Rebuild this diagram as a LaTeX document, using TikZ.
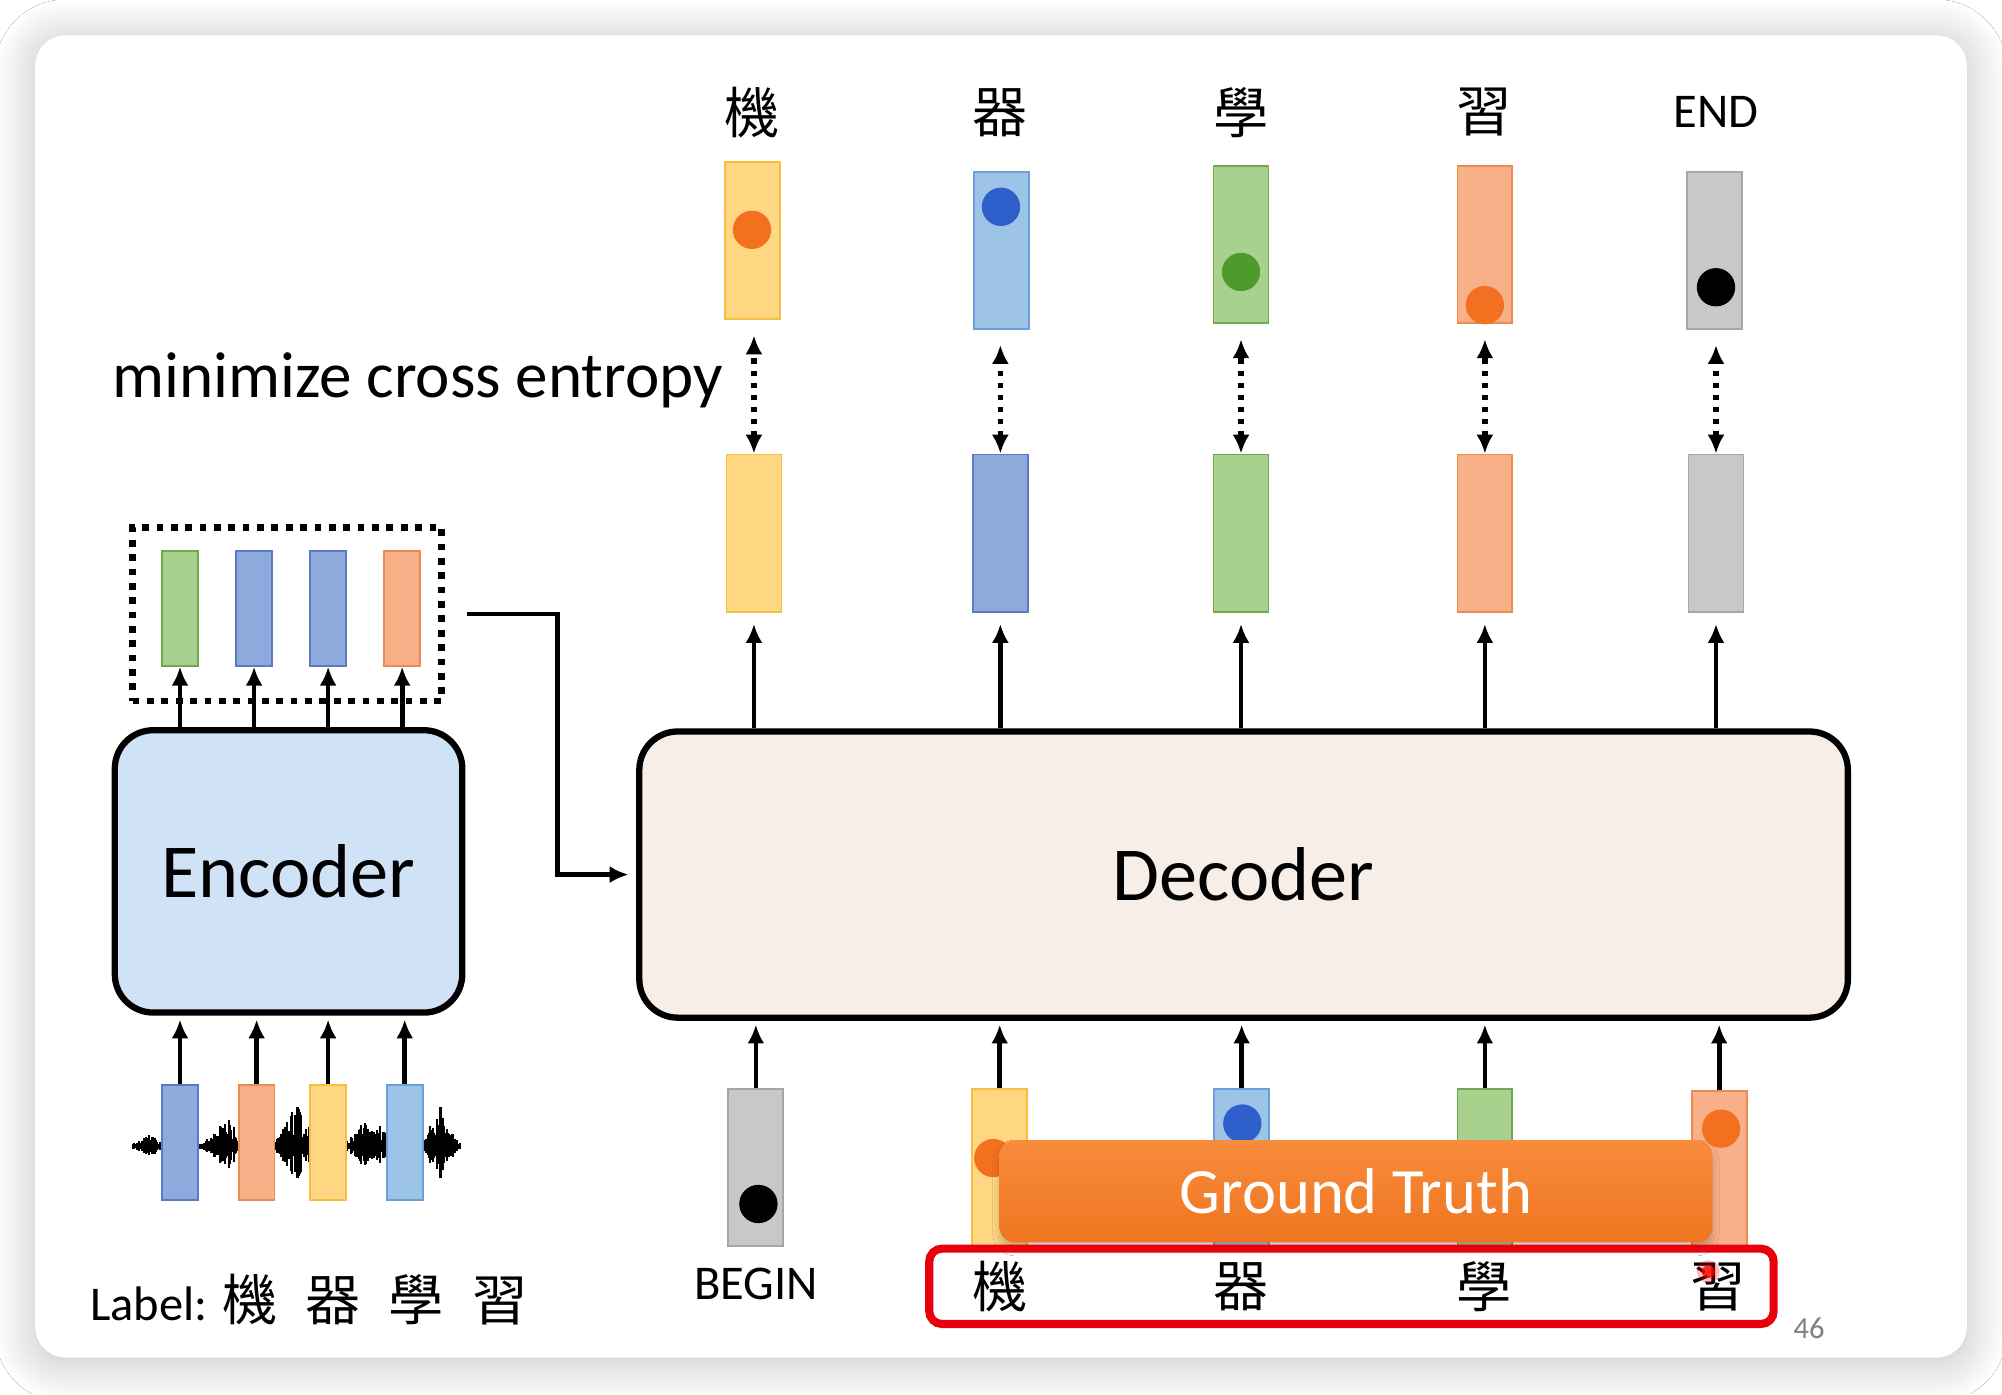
\documentclass[tikz,border=0pt]{standalone}
\usepackage{fontspec}
\setmainfont{Carlito}
\newfontfamily\cjk{Noto Sans CJK TC}
\usetikzlibrary{positioning,arrows.meta,shadows.blur}

\definecolor{vecyellow}{HTML}{FFD782}
\definecolor{vecyellowline}{HTML}{F5C040}
\definecolor{veclblue}{HTML}{9DC3E6}
\definecolor{veclblueline}{HTML}{6A9FD8}
\definecolor{vecblue}{HTML}{8EA9DB}
\definecolor{vecblueline}{HTML}{5B7BC4}
\definecolor{vecgreen}{HTML}{A9D18E}
\definecolor{vecgreenline}{HTML}{72A850}
\definecolor{vecorange}{HTML}{F8B089}
\definecolor{vecorangeline}{HTML}{EE8A50}
\definecolor{vecgray}{HTML}{C8C8C8}
\definecolor{vecgrayline}{HTML}{A6A6A6}
\definecolor{dotorange}{HTML}{F37021}
\definecolor{dotblue}{HTML}{2E5FCB}
\definecolor{dotgreen}{HTML}{4E9A2C}
\definecolor{encfill}{HTML}{CFE2F6}
\definecolor{decfill}{HTML}{F7EFE7}
\definecolor{gtorange}{HTML}{EF7520}
\definecolor{gtlight}{HTML}{F78C3C}
\definecolor{gtred}{HTML}{E8000C}

\tikzset{
  vec/.style={draw=#1line, fill=#1, line width=0.4pt, minimum width=0.43cm, minimum height=1.23cm, inner sep=0pt},
  hvec/.style={minimum width=0.28cm, minimum height=0.9cm},
  ball/.style={circle, fill=#1, minimum size=0.3cm, inner sep=0pt},
  block/.style={draw, line width=1.4pt, rounded corners=0.3cm, font=\fontsize{17}{20}\selectfont},
  dotbox/.style={draw, line width=1.5pt, dash pattern=on 1.5pt off 1.7pt, minimum width=2.42cm, minimum height=1.36cm},
  word/.style={font=\cjk\fontsize{12.3}{14}\selectfont, inner sep=0pt},
  tag/.style={font=\fontsize{10.8}{13}\selectfont, inner sep=0pt},
  up/.style={->, line width=1.05pt},
  xent/.style={<->, line width=1.2pt, dash pattern=on 1.2pt off 1.5pt, shorten >=0.12cm},
  slide/.style={fill=white, rounded corners=0.24cm, minimum width=15.12cm, minimum height=10.35cm,
    blur shadow={shadow xshift=0pt, shadow yshift=-1pt, shadow blur radius=9pt, shadow blur steps=14, shadow opacity=25}}
}

\begin{document}
\begin{tikzpicture}[x=0.01cm, y=-0.01cm, >={Latex[length=4.2pt,width=3.8pt]}]
  % page and slide
  \fill[white] (0,0) rectangle (1568,1092);
  \useasboundingbox (0,0) rectangle (1568,1092);
  \node[slide] (card) at (784,545.5) {};

  % encoder
  \node[block, fill=encfill, minimum width=2.72cm, minimum height=2.21cm] (enc) at (226,682.5) {Encoder};
  \node[dotbox] (hbox) at (225,481) {};
  \node[vec=vecgreen, hvec] (h1) at (141,476.5) {};
  \node[vec=vecblue, hvec] (h2) at (199,476.5) {};
  \node[vec=vecblue, hvec] (h3) at (257,476.5) {};
  \node[vec=vecorange, hvec] (h4) at (315,476.5) {};
  \foreach \n in {1,...,4} \draw[up] (h\n |- enc.north) -- (h\n.south);

  % speech signal
  \pgfmathsetseed{11}
  \draw[line width=0.5pt] (104,898) -- (360,898);
  \foreach \i in {104,...,360}{
    \pgfmathsetmacro\env{3+9*max(0,1-abs(\i-116)/10)+22*max(0,1-abs(\i-177)/18)+30*max(0,1-abs(\i-232)/18)+22*max(0,1-abs(\i-290)/20)+32*max(0,1-abs(\i-345)/14)}
    \pgfmathsetmacro\amp{\env*(0.3+0.7*rnd)}
    \draw[line width=0.45pt] (\i,898-\amp) -- (\i,898+0.8*\amp);
  }
  \node[vec=vecblue, hvec] (x1) at (141,895) {};
  \node[vec=vecorange, hvec] (x2) at (201,895) {};
  \node[vec=vecyellow, hvec] (x3) at (257,895) {};
  \node[vec=veclblue, hvec] (x4) at (317,895) {};
  \foreach \n in {1,...,4} \draw[up, shorten >=0.03cm] (x\n.north) -- (x\n |- enc.south);
  \node[tag, anchor=west] (lab) at (70,1018) {Label: {\cjk\fontsize{12.3}{14}\selectfont 機\hspace{0.22cm}器\hspace{0.22cm}學\hspace{0.22cm}習}};

  % decoder
  \node[block, fill=decfill, minimum width=9.46cm, minimum height=2.24cm] (dec) at (974,685) {Decoder};

  % encoder output to decoder
  \draw[up, shorten <=0.17cm, shorten >=0.06cm] (hbox.east) -- ++(88,0) |- (dec.west);

  % decoder outputs
  \node[vec=vecyellow] (pred1) at (590.5,417.5) {};
  \node[vec=vecblue] (pred2) at (783.5,417.5) {};
  \node[vec=vecgreen] (pred3) at (972,417.5) {};
  \node[vec=vecorange] (pred4) at (1163,417.5) {};
  \node[vec=vecgray] (pred5) at (1344,417.5) {};
  \foreach \n in {1,...,5} \draw[up, shorten >=0.09cm] (pred\n |- dec.north) -- (pred\n.south);

  % targets
  \node[vec=vecyellow] (out1) at (589.5,188.5) {};
  \node[vec=veclblue] (out2) at (784.5,196) {};
  \node[vec=vecgreen] (out3) at (972,191.5) {};
  \node[vec=vecorange] (out4) at (1163,191.5) {};
  \node[vec=vecgray] (out5) at (1343,196) {};
  \node[ball=dotorange] (t1) at (589,180) {};
  \node[ball=dotblue] (t2) at (784,162) {};
  \node[ball=dotgreen] (t3) at (972,213) {};
  \node[ball=dotorange] (t4) at (1163,239) {};
  \node[ball=black] (t5) at (1344,225) {};
  \node[word] (w1) at (589,88) {機};
  \node[word] (w2) at (783,88) {器};
  \node[word] (w3) at (972,88) {學};
  \node[word] (w4) at (1162,88) {習};
  \node[tag] (w5) at (1344,88) {END};
  \foreach \n in {1,...,5} \draw[xent] (pred\n.north) -- (pred\n.north |- out\n.south);
  \node[anchor=east, inner sep=0pt, font=\fontsize{14.5}{17}\selectfont] (ce) at (567,298) {minimize cross entropy};

  % decoder inputs
  \node[vec=vecgray] (in0) at (592,914.5) {};
  \node[vec=vecyellow] (in1) at (783,914.5) {};
  \node[vec=veclblue] (in2) at (972.5,914.5) {};
  \node[vec=vecgreen] (in3) at (1163,914.5) {};
  \node[vec=vecorange] (in4) at (1346.5,916) {};
  \node[ball=black] (s0) at (594,943) {};
  \node[ball=dotorange] (s1) at (778,907) {};
  \node[ball=dotblue] (s2) at (973,880) {};
  \foreach \n in {0,...,4} \draw[up, shorten >=0.03cm] (in\n.north) -- (in\n |- dec.south);
  \node[tag] (begin) at (592,1006) {BEGIN};

  % ground truth
  \node[rounded corners=0.12cm, top color=gtlight, bottom color=gtorange, minimum width=5.58cm, minimum height=0.8cm,
    text=white, font=\fontsize{14.4}{17}\selectfont,
    blur shadow={shadow xshift=0pt, shadow yshift=-1.5pt, shadow blur radius=1.5pt, shadow blur steps=6, shadow opacity=20}] (gt) at (1062,933) {Ground Truth};
  \node[ball=dotorange] (s4) at (1348,884) {};
  \node[draw=gtred, line width=1.8pt, rounded corners=0.1cm, minimum width=6.61cm, minimum height=0.59cm] (gtbox) at (1058.5,1007.5) {};
  \node[word] (g1) at (783,1008) {機};
  \node[word] (g2) at (972,1008) {器};
  \node[word] (g3) at (1162,1008) {學};
  \node[word] (g4) at (1346,1008) {習};
  \fill[red, opacity=0.25] (1338,996) circle (0.09cm);
  \fill[red, opacity=0.8] (1338,996) circle (0.05cm);

  \node[text=gray, font=\fontsize{6.8}{8}\selectfont] (page) at (1417,1040) {46};
\end{tikzpicture}
\end{document}
